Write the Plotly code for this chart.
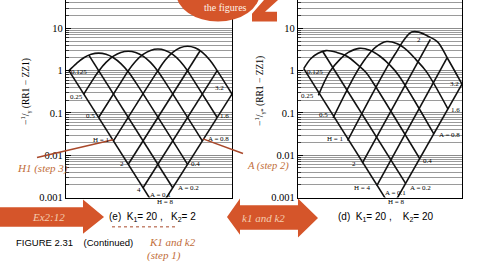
import plotly.graph_objects as go

W, H = 480, 270

# ---------------- data ----------------
# x: position along the (unlabelled) abscissa, y: -(1/gamma)(RR1 - ZZ1)
# Panel (e): K1 = 20, K2 = 2
e_arch1_x = [0, 0.5, 1, 1.5, 2, 2.5, 3, 3.5, 4, 4.5, 8]
e_arch1_y = [1.0, 1.47, 2.02, 2.44, 2.60, 2.44, 2.02, 1.47, 0.94, 0.528, 0.0061]
e_arch2_x = [1, 1.66, 2, 2.5, 3, 3.5, 4, 4.5, 5, 5.5, 6, 6.34, 9]
e_arch2_y = [0.279, 0.648, 0.969, 1.563, 2.194, 2.695, 2.884, 2.695, 2.194, 1.563, 0.969, 0.648, 0.0218]
e_arch3_x = [2, 3.84, 4, 4.5, 5, 5.5, 6, 6.5, 7, 7.5, 8, 8.16, 10]
e_arch3_y = [0.078, 0.815, 0.992, 1.665, 2.412, 3.003, 3.234, 3.003, 2.412, 1.665, 0.992, 0.815, 0.078]
e_arch4_x = [3, 6, 6.5, 7, 7.5, 8, 8.5, 9, 9.5, 10, 11]
e_arch4_y = [0.0218, 1.0, 1.784, 2.705, 3.469, 3.770, 3.469, 2.705, 1.784, 1.0, 0.279]
e_A01_x, e_A01_y = [0, 6], [1.0, 0.000475]
e_A02_x, e_A02_y = [1.34, 7], [2.33, 0.0017]
e_H2_x, e_H2_y = [4, 8.85], [0.0061, 2.96]
e_H4_x, e_H4_y = [5, 10], [0.0017, 1.0]
e_H8_x, e_H8_y = [6, 11], [0.000475, 0.279]

# Panel (d): K1 = 20, K2 = 20
d_arch1_x = [0, 0.5, 1.0, 1.55, 2.3, 3.0, 3.7, 4.3, 4.8, 8.06]
d_arch1_y = [1.114, 1.936, 2.568, 2.976, 2.697, 2.189, 1.424, 0.927, 0.533, 0.00833]
d_arch2_x = [1.017, 1.8, 2.5, 3.1, 3.85, 4.6, 5.3, 6.0, 6.6, 9.04]
d_arch2_y = [0.2592, 0.938, 1.820, 2.697, 3.364, 3.050, 2.189, 1.339, 0.771, 0.0321]
d_arch3_x = [2.034, 3.6, 4.3, 5.0, 5.76, 6.5, 7.2, 7.8, 8.5, 10.02]
d_arch3_y = [0.0759, 0.830, 1.936, 3.577, 4.863, 4.300, 2.976, 1.820, 0.973, 0.1241]
d_arch4_x = [3.05, 5.8, 6.5, 7.0, 7.5, 8.0, 8.6, 9.3, 10.0, 11]
d_arch4_y = [0.02223, 1.229, 2.976, 5.499, 8.146, 8.146, 6.607, 4.788, 1.936, 0.4789]
d_A01_x, d_A01_y = [0, 6.1], [1.114, 0.000559]
d_A02_x, d_A02_y = [1.32, 7.08], [2.833, 0.002157]
d_H2_x, d_H2_y = [4.07, 8.8], [0.006512, 5.499]
d_H4_x, d_H4_y = [5.08, 9.95], [0.001908, 1.984]
d_H8_x, d_H8_y = [6.1, 11], [0.000559, 0.4789]

Y_MAJOR = [0.001, 0.01, 0.1, 1, 10]
Y_MAJOR_TEXT = ["0.001", "0.01", "0.1", "1", "10"]
Y_MINOR = [0.002, 0.003, 0.004, 0.005, 0.006, 0.007, 0.008, 0.009,
           0.02, 0.03, 0.04, 0.05, 0.06, 0.07, 0.08, 0.09,
           0.2, 0.3, 0.4, 0.5, 0.6, 0.7, 0.8, 0.9,
           2, 3, 4, 5, 6, 7, 8, 9, 20, 30, 40]

E_LABELS = ["0.125", "0.25", "0.5", "H = 1", "2", "4", "H = 8",
            "A = 0.1", "A = 0.2", "0.4", "A = 0.8", "1.6", "3.2"]
D_LABELS = ["0.125", "0.25", "0.5", "H = 1", "2", "H = 4", "H = 8",
            "A = 0.1", "A = 0.2", "0.4", "A = 0.8", "1.6", "3.2", "2"]

# ---------------- figure ----------------
fig = go.Figure()


def add_curve(x, y, xa, ya, spline):
    fig.add_trace(go.Scatter(
        x=x, y=y, mode="lines", xaxis=xa, yaxis=ya,
        line=dict(color="#111111", width=1.6,
                  shape="spline" if spline else "linear", smoothing=1.0),
        hoverinfo="skip", showlegend=False))


for ax, ay, arches, lines in [
    ("x", "y",
     [(e_arch1_x, e_arch1_y), (e_arch2_x, e_arch2_y), (e_arch3_x, e_arch3_y), (e_arch4_x, e_arch4_y)],
     [(e_A01_x, e_A01_y), (e_A02_x, e_A02_y), (e_H2_x, e_H2_y), (e_H4_x, e_H4_y), (e_H8_x, e_H8_y)]),
    ("x2", "y2",
     [(d_arch1_x, d_arch1_y), (d_arch2_x, d_arch2_y), (d_arch3_x, d_arch3_y), (d_arch4_x, d_arch4_y)],
     [(d_A01_x, d_A01_y), (d_A02_x, d_A02_y), (d_H2_x, d_H2_y), (d_H4_x, d_H4_y), (d_H8_x, d_H8_y)]),
]:
    for cx, cy in arches:
        add_curve(cx, cy, ax, ay, True)
    for cx, cy in lines:
        add_curve(cx, cy, ax, ay, False)

serif = "Liberation Serif"
sans = "Liberation Sans"


def xaxis(dom, rng):
    return dict(domain=dom, range=rng, showline=True, linecolor="black", linewidth=1.2,
                showticklabels=False, ticks="", showgrid=False, zeroline=False, fixedrange=True)


def yaxis(anchor):
    return dict(domain=[1 - 202 / H, 1], type="log", range=[-3, 1.67], anchor=anchor,
                showline=True, mirror=True, linecolor="black", linewidth=1.2,
                tickmode="array", tickvals=Y_MAJOR, ticktext=Y_MAJOR_TEXT,
                ticks="inside", ticklen=5, tickcolor="black", tickwidth=1,
                showgrid=True, gridcolor="#8c8c8c", gridwidth=1, zeroline=False,
                minor=dict(tickvals=Y_MINOR, ticks="inside", ticklen=3, tickcolor="#333",
                           showgrid=True, gridcolor="#9a9a9a", gridwidth=1),
                tickfont=dict(family=serif, size=10.5, color="black"), fixedrange=True)


def P(x, y):
    return dict(x=x / W, y=1 - y / H, xref="paper", yref="paper")


def path(pts):
    return "M" + " L".join(f"{x / W:.4f},{1 - y / H:.4f}" for x, y in pts) + " Z"


ORANGE = "#d5552a"
BROWN = "#a9482a"
NOTE = "#bf6d38"

shapes = [
    dict(type="circle", xref="paper", yref="paper", x0=176 / W, x1=260 / W,
         y0=1 - 22 / H, y1=1 + 38 / H, fillcolor=ORANGE, line=dict(width=0)),
    dict(type="path", xref="paper", yref="paper", fillcolor=ORANGE, line=dict(width=0),
         path=path([(264, 0), (278, 0), (265, 12), (277, 12), (277, 22), (252, 22), (252, 14)])),
    dict(type="path", xref="paper", yref="paper", fillcolor=ORANGE, line=dict(width=0),
         path=path([(0, 212), (83, 212), (83, 204), (104, 222), (83, 239), (83, 232), (0, 232)])),
    dict(type="path", xref="paper", yref="paper", fillcolor=ORANGE, line=dict(width=0),
         path=path([(227, 222), (240, 203), (240, 210), (298, 210), (298, 203), (318, 223),
                    (298, 243), (298, 235), (240, 235), (240, 240)])),
    dict(type="line", xref="paper", yref="paper", x0=37 / W, y0=1 - 161 / H, x1=113 / W, y1=1 - 143 / H,
         line=dict(color=BROWN, width=1.5)),
    dict(type="line", xref="paper", yref="paper", x0=203 / W, y0=1 - 142 / H, x1=243 / W, y1=1 - 157 / H,
         line=dict(color=BROWN, width=1.5)),
    dict(type="line", xref="paper", yref="paper", x0=112 / W, y0=1 - 232 / H, x1=175 / W, y1=1 - 232 / H,
         line=dict(color=BROWN, width=1, dash="dot")),
]

ann = []


def A(text, x, y, size, color="black", family=serif, angle=0, xanchor="center"):
    ann.append(dict(text=text, showarrow=False, font=dict(family=family, size=size, color=color),
                    textangle=angle, xanchor=xanchor, yanchor="middle", **P(x, y)))


e_pos = [(79, 74), (76, 99), (90, 119), (101, 143), (122, 168), (139, 194), (165, 207),
         (160, 199), (188, 192), (195, 168), (218, 142), (224, 119), (219, 90)]
d_pos = [(315, 74), (307, 98), (323, 118), (335, 142), (354, 168), (362, 192), (396, 207),
         (395, 197), (420, 192), (427, 165), (449, 138), (455, 113), (454, 86), (419, 41)]
for t, (x, y) in zip(E_LABELS, e_pos):
    A(t, x, y, 7)
for t, (x, y) in zip(D_LABELS, d_pos):
    A(t, x, y, 7)

A("−<sup>1</sup>/<sub>γ</sub> (RR1 − ZZ1)", 26, 94, 9.5, angle=-90)
A("−<sup>1</sup>/<sub>γ*</sub> (RR1 − ZZ1)", 260, 93, 9.5, angle=-90)

A("the figures", 225, 8, 10, color="#fff3e8")
A("<i>Ex2:12</i>", 48, 222, 11, color="#f4cdb0")
A("<i>k1 and k2</i>", 263, 223, 11, color="#f4cdb0")
A("<i>H1 (step 3)</i>", 42, 172, 11, color=NOTE)
A("<i>A (step 2)</i>", 268, 170, 10.5, color=NOTE)
A("<i>K1 and k2</i>", 172, 247, 11, color=NOTE)
A("<i>(step 1)</i>", 164, 261, 11, color=NOTE)

A("(e)  K<sub>1</sub>= 20 ,   K<sub>2</sub>= 2", 107, 222, 10, family=sans, xanchor="left")
A("(d)  K<sub>1</sub>= 20 ,    K<sub>2</sub>= 20", 336, 222, 10, family=sans, xanchor="left")
A("FIGURE 2.31    (Continued)", 14, 248, 9.5, family=sans, xanchor="left")

fig.update_layout(
    width=W, height=H, margin=dict(l=0, r=0, t=0, b=0),
    paper_bgcolor="white", plot_bgcolor="white", showlegend=False,
    xaxis=xaxis([66 / W, 232 / W], [-0.2, 11]),
    yaxis=yaxis("x"),
    xaxis2=xaxis([298 / W, 462 / W], [-0.4, 11]),
    yaxis2=yaxis("x2"),
    shapes=shapes, annotations=ann,
)

fig.write_html("out.html", config={"displayModeBar": False})
